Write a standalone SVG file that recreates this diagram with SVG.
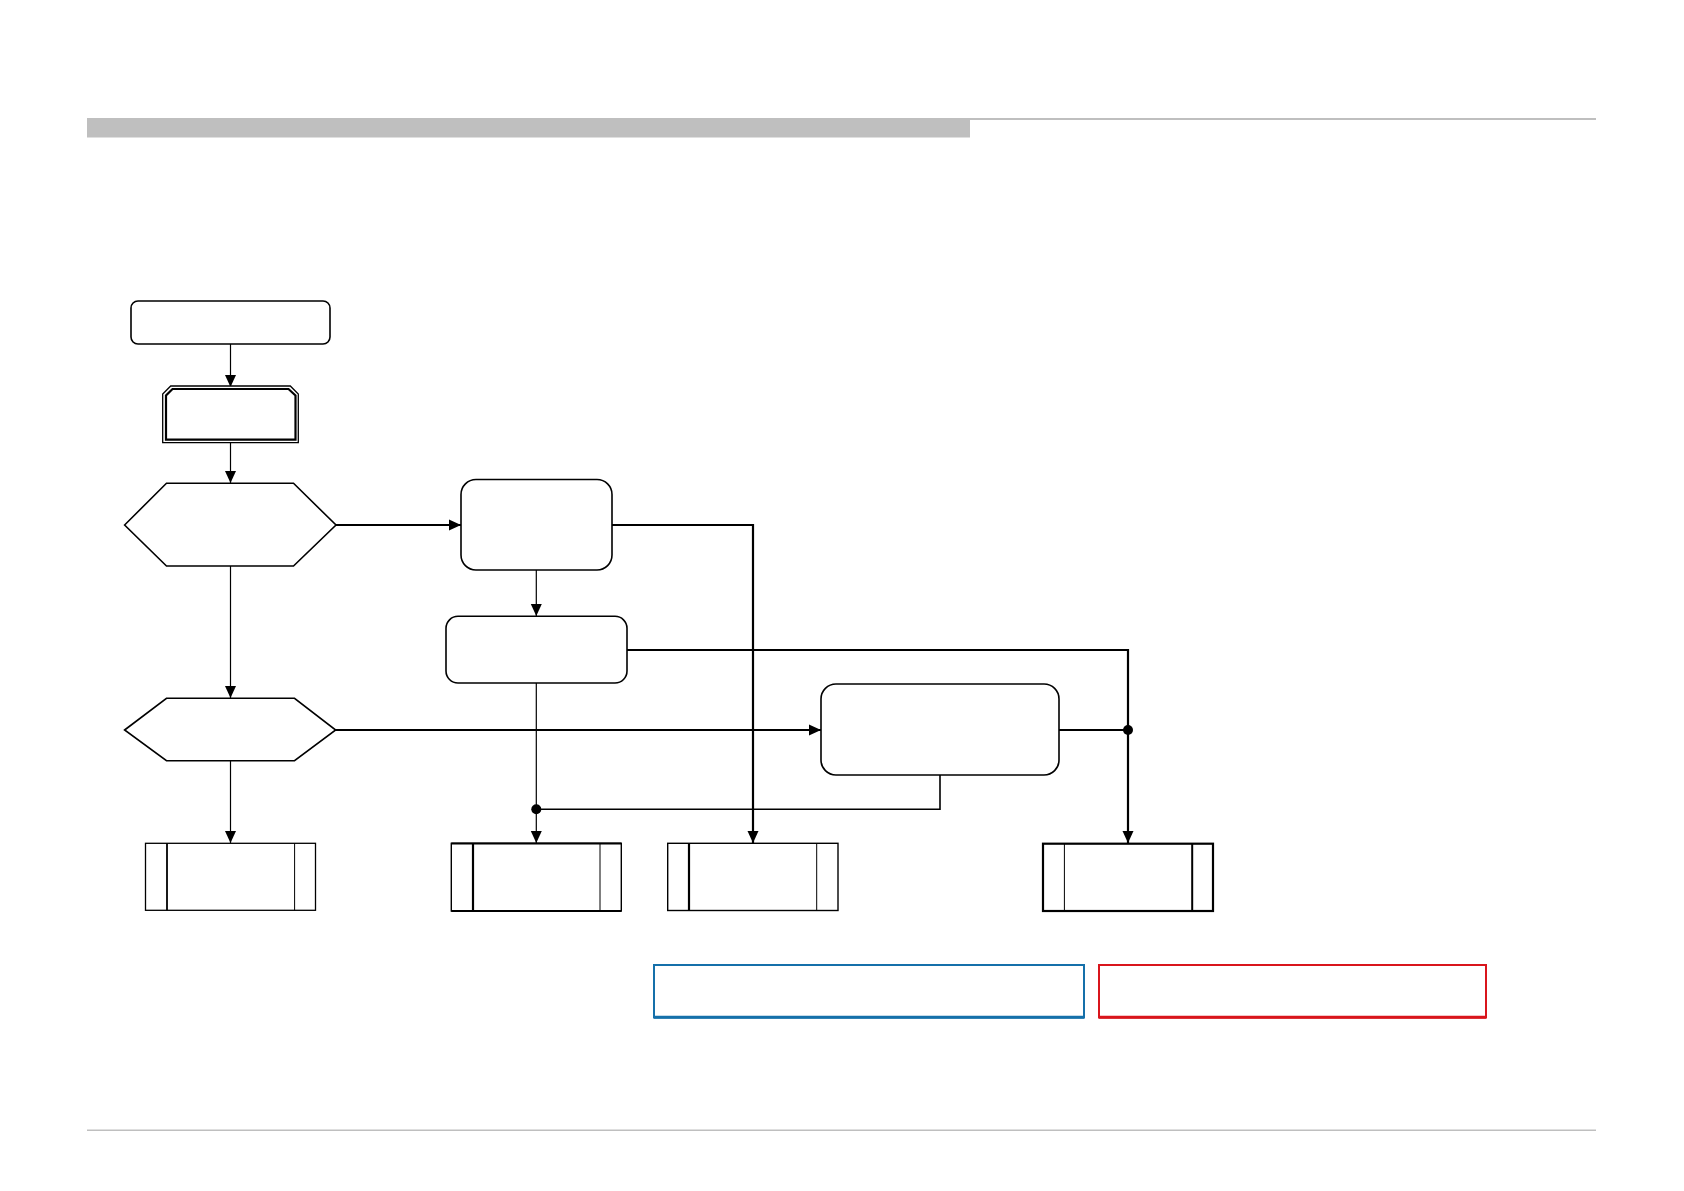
<svg xmlns="http://www.w3.org/2000/svg" width="1684" height="1191" viewBox="0 0 1684 1191">
<style>
.n{fill:#fff;stroke:#000;stroke-width:1.6}
.c{fill:none;stroke:#000;stroke-width:2.2}
.t{fill:none;stroke:#000;stroke-width:1.2}
.m{fill:none;stroke:#000;stroke-width:1.6}
</style>
<defs>
<marker id="ah" markerUnits="userSpaceOnUse" markerWidth="12" markerHeight="12" viewBox="0 0 12 12" refX="12" refY="6" orient="auto">
<path d="M0,0.5 L12,6 L0,11.5 Z" fill="#000"/>
</marker>
</defs>
<rect width="1684" height="1191" fill="#fff"/>
<g id="header">
<rect x="87" y="118" width="883" height="19.5" fill="#bfbfbf"/>
<rect x="87" y="118" width="1509" height="2" fill="#bfbfbf"/>
</g>
<g id="footer">
<rect x="87" y="1129.5" width="1509" height="1.5" fill="#bfbfbf"/>
</g>
<g id="connectors">
<path class="t" d="M230.5,344 V387" marker-end="url(#ah)"/>
<path class="t" d="M230.5,442.5 V483" marker-end="url(#ah)"/>
<path class="c" d="M336,525 H461" marker-end="url(#ah)"/>
<path class="c" d="M612,525 H753 V843" marker-end="url(#ah)"/>
<path class="t" d="M536.3,570 V616" marker-end="url(#ah)"/>
<path class="c" d="M627,650 H1128 V843" marker-end="url(#ah)"/>
<path class="t" d="M536.3,683 V843" marker-end="url(#ah)"/>
<path class="t" d="M230.5,566 V698" marker-end="url(#ah)"/>
<path class="c" d="M336,730 H821" marker-end="url(#ah)"/>
<path class="c" d="M1059,730 H1128"/>
<path class="m" d="M940,775 V809.3 H536.3"/>
<path class="t" d="M230.5,761 V843" marker-end="url(#ah)"/>
<circle cx="536.3" cy="809.3" r="5" fill="#000"/>
<circle cx="1128" cy="730" r="5" fill="#000"/>
</g>
<g id="start">
<rect class="n" x="131" y="301" width="199" height="43" rx="7"/>
</g>
<g id="prep">
<path d="M162.7,442.7 V394 L170.7,386 H290.3 L298.3,394 V442.7 Z" fill="#fff" stroke="#000" stroke-width="1.3"/>
<path d="M166,439.7 V395.5 L172.5,389 H288.5 L295.5,395.5 V439.7 Z" fill="none" stroke="#000" stroke-width="2.2"/>
</g>
<g id="decision1">
<polygon class="n" points="124.6,525 166.5,483.3 293.5,483.3 336,525 293.5,566 166.5,566"/>
</g>
<g id="processA">
<rect class="n" x="461" y="479.5" width="151" height="90.5" rx="15"/>
</g>
<g id="processB">
<rect class="n" x="446" y="616.3" width="181" height="66.7" rx="12"/>
</g>
<g id="decision2">
<polygon class="n" points="124.6,730 166.5,698.3 294.5,698.3 335.7,730 294.5,760.7 166.5,760.7"/>
</g>
<g id="processC">
<rect class="n" x="821" y="684" width="238" height="91" rx="15"/>
</g>
<g id="sub1">
<rect x="145.5" y="843.3" width="170" height="67" fill="#fff" stroke="#000" stroke-width="1.3"/>
<line x1="167" y1="843.3" x2="167" y2="910.3" stroke="#000" stroke-width="1.8"/>
<line x1="294.6" y1="843.3" x2="294.6" y2="910.3" stroke="#000" stroke-width="1"/>
</g>
<g id="sub2">
<rect x="451.3" y="843.3" width="170" height="67.7" fill="#fff" stroke="#000" stroke-width="1.4"/>
<line x1="451.3" y1="843.5" x2="621.3" y2="843.5" stroke="#000" stroke-width="2.2"/>
<line x1="451.3" y1="911" x2="621.3" y2="911" stroke="#000" stroke-width="2.2"/>
<line x1="473" y1="843.3" x2="473" y2="911" stroke="#000" stroke-width="2.2"/>
<line x1="600" y1="843.3" x2="600" y2="911" stroke="#000" stroke-width="1"/>
</g>
<g id="sub3">
<rect x="667.7" y="843.3" width="170.3" height="67.2" fill="#fff" stroke="#000" stroke-width="1.4"/>
<line x1="689" y1="843.3" x2="689" y2="910.5" stroke="#000" stroke-width="2.2"/>
<line x1="816.7" y1="843.3" x2="816.7" y2="910.5" stroke="#000" stroke-width="1"/>
</g>
<g id="sub4">
<rect x="1043" y="843.7" width="170" height="67.3" fill="#fff" stroke="#000" stroke-width="2.2"/>
<line x1="1064.4" y1="843.7" x2="1064.4" y2="911" stroke="#000" stroke-width="1"/>
<line x1="1192.2" y1="843.7" x2="1192.2" y2="911" stroke="#000" stroke-width="2"/>
</g>
<g id="legendBlue">
<rect x="654" y="965" width="430" height="52.5" fill="#fff" stroke="#1570aa" stroke-width="2"/>
<line x1="654" y1="1017.3" x2="1084" y2="1017.3" stroke="#1570aa" stroke-width="3"/>
</g>
<g id="legendRed">
<rect x="1099" y="965" width="387" height="52.5" fill="#fff" stroke="#d9151c" stroke-width="2"/>
<line x1="1099" y1="1017.3" x2="1486" y2="1017.3" stroke="#d9151c" stroke-width="3"/>
</g>
</svg>
